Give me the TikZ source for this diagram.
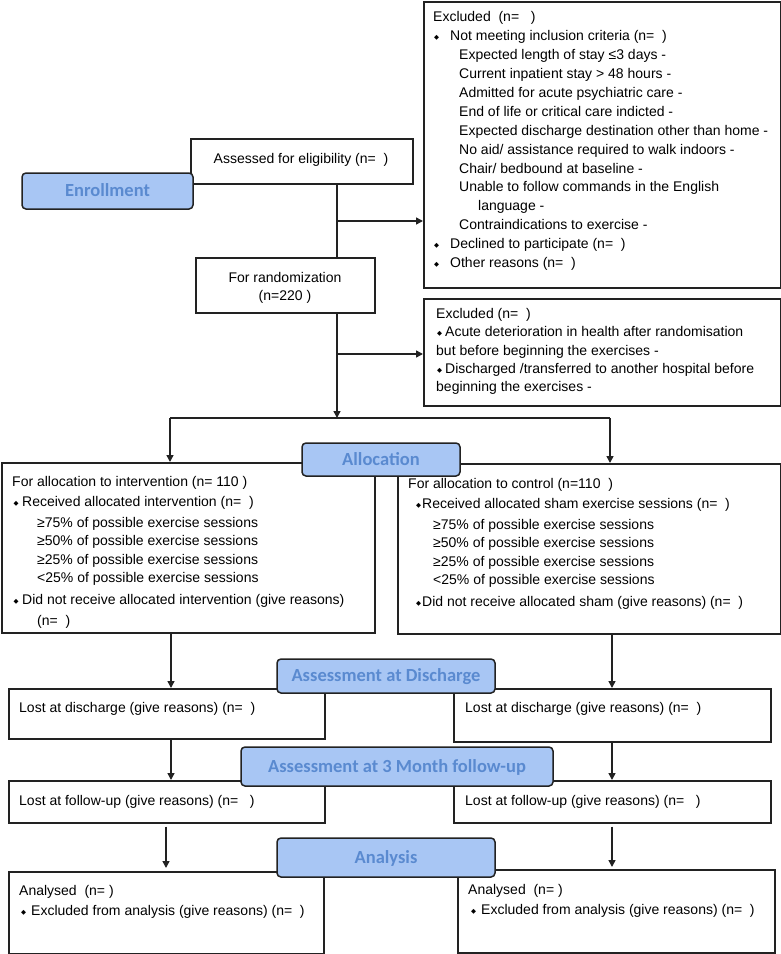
\documentclass[tikz,border=0pt]{standalone}
\usepackage{fontspec}
\setmainfont{Liberation Sans}
\newfontfamily\labfont{Carlito}
\newfontfamily\dejavu{DejaVu Sans}
\usetikzlibrary{arrows.meta}
\definecolor{labfill}{HTML}{A8C6F4}
\definecolor{labtext}{HTML}{5A8AD0}
\definecolor{edge}{HTML}{222222}
\newcommand\bul{{\dejavu\fontsize{6.5}{6.5}\selectfont\raisebox{0.8pt}{◆}}}
\begin{document}
\begin{tikzpicture}[x=1pt,y=-1pt,
  bx/.style={draw=edge, line width=1.5pt, anchor=north west, inner sep=0pt},
  txt/.style={anchor=base west, inner sep=0pt, font=\fontsize{14}{16}\selectfont, text=black},
  ctxt/.style={anchor=base, inner sep=0pt, font=\fontsize{14}{16}\selectfont, text=black},
  lab/.style={draw=edge, line width=1.5pt, rounded corners=4pt, fill=labfill, text=labtext,
    inner sep=0pt, text height=11pt, text depth=0pt,
    font=\labfont\bfseries\fontsize{18.5}{20}\selectfont},
  conn/.style={draw=edge, line width=1.5pt},
  arr/.style={conn, -{Triangle[length=7pt,width=7pt]}}]
\useasboundingbox (0,0) rectangle (781,954);

% boxes
\node[bx, minimum width=357pt, minimum height=286pt] (ex1) at (423,1) {};
\node[bx, minimum width=357pt, minimum height=107pt] (ex2) at (423,298) {};
\node[bx, minimum width=222pt, minimum height=45pt] (assess) at (190,138) {};
\node[bx, minimum width=179pt, minimum height=55pt] (rand) at (195,257) {};
\node[bx, minimum width=373pt, minimum height=170pt] (al) at (1,462) {};
\node[bx, minimum width=383pt, minimum height=170pt] (ar) at (397,463) {};
\node[bx, minimum width=316pt, minimum height=50pt] (ldl) at (8,688) {};
\node[bx, minimum width=317pt, minimum height=53pt] (ldr) at (453,688) {};
\node[bx, minimum width=316pt, minimum height=42pt] (lfl) at (8,780) {};
\node[bx, minimum width=317pt, minimum height=42pt] (lfr) at (453,780) {};
\node[bx, minimum width=315pt, minimum height=82pt] (anl) at (8,871) {};
\node[bx, minimum width=317pt, minimum height=83pt] (anr) at (457,869) {};

% texts
\node[ctxt] (assesst) at (301,163) {Assessed for eligibility (n=\ \ )};
\node[ctxt] (randt1) at (285,282) {For randomization};
\node[ctxt] (randt2) at (285,300) {(n=220 )};

\foreach \t [count=\i] in {
  {Excluded\ \ (n=\ \ \ )},
  {\hspace*{1pt}\makebox[16pt][l]{\bul}Not meeting inclusion criteria (n=\ \ )},
  {\hspace*{26pt}Expected length of stay ≤3 days -},
  {\hspace*{26pt}Current inpatient stay > 48 hours -},
  {\hspace*{26pt}Admitted for acute psychiatric care -},
  {\hspace*{26pt}End of life or critical care indicted -},
  {\hspace*{26pt}Expected discharge destination other than home -},
  {\hspace*{26pt}No aid/ assistance required to walk indoors -},
  {\hspace*{26pt}Chair/ bedbound at baseline -},
  {\hspace*{26pt}Unable to follow commands in the English},
  {\hspace*{45pt}language -},
  {\hspace*{26pt}Contraindications to exercise -},
  {\hspace*{1pt}\makebox[16pt][l]{\bul}Declined to participate (n=\ \ )},
  {\hspace*{1pt}\makebox[16pt][l]{\bul}Other reasons (n=\ \ )}}
  \node[txt] (exa\i) at (433, 2.9+18.9*\i) {\t};

\foreach \t [count=\i] in {
  {Excluded (n=\ \ )},
  {\hspace*{1pt}\makebox[8pt][l]{\bul}Acute deterioration in health after randomisation},
  {but before beginning the exercises -},
  {\hspace*{1pt}\makebox[8pt][l]{\bul}Discharged /transferred to another hospital before},
  {beginning the exercises -}}
  \node[txt] (exb\i) at (436, 299.95+18.35*\i) {\t};

\foreach \y/\t [count=\i] in {
  486.7/{For allocation to intervention (n= 110 )},
  506.7/{\hspace*{1.5pt}\makebox[8.5pt][l]{\bul}Received allocated intervention (n=\ \ )},
  527.3/{\hspace*{25pt}≥75\% of possible exercise sessions},
  545.7/{\hspace*{25pt}≥50\% of possible exercise sessions},
  564/{\hspace*{25pt}≥25\% of possible exercise sessions},
  582.7/{\hspace*{25pt}<25\% of possible exercise sessions},
  604.3/{\hspace*{1.5pt}\makebox[8.5pt][l]{\bul}Did not receive allocated intervention (give reasons)},
  625/{\hspace*{25pt}(n=\ \ )}}
  \node[txt] (alt\i) at (12,\y) {\t};

\foreach \y/\t [count=\i] in {
  488.3/{For allocation to control (n=110\ \ )},
  508.3/{\hspace*{8pt}\makebox[6pt][l]{\bul}Received allocated sham exercise sessions (n=\ \ )},
  529/{\hspace*{25pt}≥75\% of possible exercise sessions},
  547.3/{\hspace*{25pt}≥50\% of possible exercise sessions},
  566/{\hspace*{25pt}≥25\% of possible exercise sessions},
  584.3/{\hspace*{25pt}<25\% of possible exercise sessions},
  606/{\hspace*{8pt}\makebox[6pt][l]{\bul}Did not receive allocated sham (give reasons) (n=\ \ )}}
  \node[txt] (art\i) at (408,\y) {\t};

\node[txt] (ldlt) at (19,712.7) {Lost at discharge (give reasons) (n=\ \ )};
\node[txt] (ldrt) at (465,712.7) {Lost at discharge (give reasons) (n=\ \ )};
\node[txt] (lflt) at (19,805) {Lost at follow-up (give reasons) (n=\ \ \ )};
\node[txt] (lfrt) at (465,805) {Lost at follow-up (give reasons) (n=\ \ \ )};
\node[txt] (anlt1) at (19,895) {Analysed\ \ (n=\ )};
\node[txt] (anlt2) at (20,915.7) {\makebox[11pt][l]{\hspace*{1pt}\bul}Excluded from analysis (give reasons) (n=\ \ )};
\node[txt] (anrt1) at (468,894.3) {Analysed\ \ (n=\ )};
\node[txt] (anrt2) at (470,914.3) {\makebox[11pt][l]{\hspace*{1pt}\bul}Excluded from analysis (give reasons) (n=\ \ )};

% connectors
\coordinate (spine) at (337,0);
\coordinate (j1) at (337,221);
\coordinate (j2) at (337,354);
\coordinate (split) at (337,418);
\coordinate (cL) at (170,418);
\coordinate (cR) at (610,418);
\coordinate (colL) at (171,0);
\coordinate (colR) at (612,0);
\coordinate (colL2) at (166,0);

\draw[conn] (assess.south -| spine) -- (rand.north -| spine);
\draw[arr] (j1) -- (j1 -| ex1.west);
\draw[arr] (rand.south -| spine) -- (split);
\draw[arr] (j2) -- (j2 -| ex2.west);
\draw[conn] (cL) -- (cR);
\draw[arr] (cL) -- (cL |- al.north);
\draw[arr] (cR) -- (cR |- ar.north);
\draw[arr] (al.south -| colL) -- (ldl.north -| colL);
\draw[arr] (ar.south -| colR) -- (ldr.north -| colR);
\draw[arr] (ldl.south -| colL) -- (lfl.north -| colL);
\draw[arr] (ldr.south -| colR) -- (lfr.north -| colR);
\draw[arr, shorten <=3pt, shorten >=3pt] (lfl.south -| colL2) -- (anl.north -| colL2);
\draw[arr, shorten <=3pt, shorten >=2pt] (lfr.south -| colR) -- (anr.north -| colR);

% stage labels
\node[lab, minimum width=171pt, minimum height=36pt] (enr) at (107.5,191) {Enrollment};
\node[lab, minimum width=158pt, minimum height=33pt] (alloc) at (381,459.5) {Allocation};
\node[lab, minimum width=218pt, minimum height=34pt] (adis) at (386,676) {Assessment at Discharge};
\node[lab, minimum width=312pt, minimum height=39pt] (a3m) at (397,766.5) {Assessment at 3 Month follow-up};
\node[lab, minimum width=218pt, minimum height=39pt] (ana) at (386,857.5) {Analysis};
\end{tikzpicture}
\end{document}
